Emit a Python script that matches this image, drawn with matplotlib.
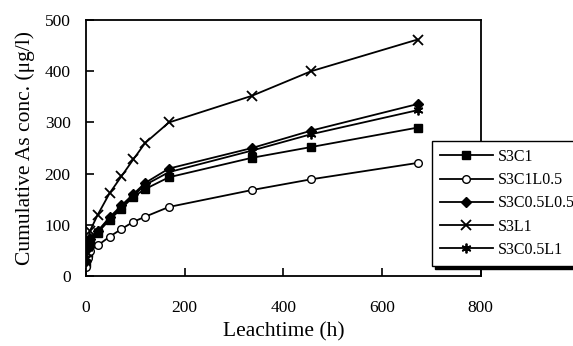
import matplotlib.pyplot as plt

plt.rcParams['font.family'] = ['Liberation Serif', 'DejaVu Serif']

# leach times (h)
hours = [1, 4, 8, 24, 48, 72, 96, 120, 168, 336, 456, 672]

# cumulative As concentration (ug/l)
s3c1 = [25, 45, 65, 85, 110, 132, 155, 170, 193, 231, 252, 290]
s3c1l05 = [18, 35, 50, 60, 77, 92, 106, 116, 135, 168, 189, 221]
s3c05l05 = [30, 55, 72, 88, 115, 138, 160, 182, 210, 250, 284, 336]
s3l1 = [50, 70, 88, 120, 162, 195, 228, 260, 300, 352, 400, 462]
s3c05l1 = [35, 55, 75, 88, 112, 135, 157, 178, 203, 245, 277, 324]

names = ['S3C1', 'S3C1L0.5', 'S3C0.5L0.5', 'S3L1', 'S3C0.5L1']
series = [s3c1, s3c1l05, s3c05l05, s3l1, s3c05l1]
markers = [
    dict(marker='s', ms=5.5, mfc='black'),
    dict(marker='o', ms=5.5, mfc='white'),
    dict(marker='D', ms=5, mfc='black'),
    dict(marker='x', ms=7, mew=1.3),
    dict(marker=(6, 2, 0), ms=7, mew=1.3),
]

fig = plt.figure(figsize=(5.73, 3.46), dpi=100)
ax = fig.add_axes([0.150, 0.202, 0.689, 0.740])

for name, vals, mk in zip(names, series, markers):
    ax.plot(hours, vals, color='black', lw=1.3, mec='black', label=name, **mk)

ax.set_xlim(0, 800)
ax.set_ylim(0, 500)
ax.set_xticks([0, 200, 400, 600, 800])
ax.set_yticks([0, 100, 200, 300, 400, 500])
ax.tick_params(axis='x', direction='in', length=6, width=1.2, pad=17, labelsize=12.5)
ax.tick_params(axis='y', direction='in', length=6, width=1.2, pad=11, labelsize=12.5)
for sp in ax.spines.values():
    sp.set_linewidth(1.3)

ax.set_xlabel('Leachtime (h)', fontsize=15.5, labelpad=5)
ax.set_ylabel('Cumulative As conc. (μg/l)', fontsize=15.5, labelpad=7)

leg = ax.legend(loc='upper left', bbox_to_anchor=(432 / 573, 1 - 141 / 346),
                bbox_transform=fig.transFigure, fontsize=11.5, frameon=True,
                fancybox=False, shadow={'color': 'black', 'alpha': 1},
                handlelength=3.3, handletextpad=0.3, labelspacing=0.45,
                borderpad=0.5, borderaxespad=0)
leg.get_frame().set_edgecolor('black')
leg.get_frame().set_linewidth(1.0)
leg.set_zorder(10)

fig.savefig('out.png', dpi=100)
